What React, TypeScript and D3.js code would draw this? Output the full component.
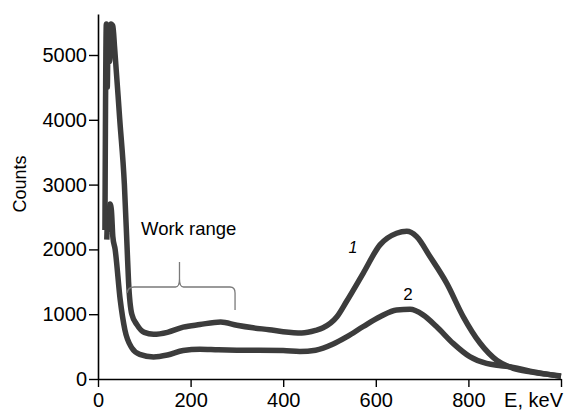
import React, { useEffect, useRef } from 'react';
import * as d3 from 'd3';

// spectrum 1 (upper curve), [energy keV, counts]
const series1: [number, number][] = [
  [15, 2300], [18, 5480], [20, 4500], [22, 5450], [25, 4900], [28, 5480],
  [32, 5450], [36, 5100], [47, 4000], [57, 3000], [63, 2000], [66, 1500],
  [73, 1000], [84, 840], [100, 720], [120, 690], [150, 720], [184, 800],
  [220, 840], [265, 880], [300, 830], [335, 790], [370, 760], [400, 730],
  [440, 710], [470, 750], [486, 790], [516, 960], [537, 1200], [573, 1635],
  [609, 2070], [645, 2250], [667, 2280], [688, 2200], [717, 1890], [753, 1480],
  [789, 960], [825, 555], [861, 290], [897, 165], [933, 110], [969, 75], [1000, 45],
];

// spectrum 2 (lower curve)
const series2: [number, number][] = [
  [19, 2150], [21, 2500], [23, 2300], [26, 2700], [29, 2600], [32, 2200],
  [37, 2000], [48, 1220], [58, 760], [73, 480], [90, 380], [120, 340],
  [150, 370], [184, 440], [220, 460], [260, 450], [300, 445], [400, 440],
  [436, 425], [470, 445], [508, 540], [537, 650], [573, 810], [609, 960],
  [645, 1065], [674, 1075], [702, 990], [731, 810], [767, 550], [803, 345],
  [839, 240], [870, 205], [897, 180], [933, 120], [969, 75], [1000, 40],
];

const xTicks = [0, 200, 400, 600, 800, 1000];
const yTicks = [0, 1000, 2000, 3000, 4000, 5000];

// "Work range" brace in data units
const brace = { left: 65, center: 176, right: 296, level: 1420, tip: 1805, leftEnd: 1330, rightEnd: 1065 };

const W = 566, H = 412;
const font = '"Liberation Sans", Arial, sans-serif';

export default function App() {
  const svgRef = useRef<SVGSVGElement>(null);

  useEffect(() => {
    const svg = d3.select(svgRef.current);
    svg.selectAll('*').remove();

    const x = d3.scaleLinear().domain([0, 1000]).range([98, 561]);
    const y = d3.scaleLinear().domain([0, 5000]).range([379, 55]);
    const yTop = y.invert(14);

    const line = d3.line<[number, number]>()
      .x(d => x(d[0]))
      .y(d => y(d[1]))
      .curve(d3.curveMonotoneX);

    [series2, series1].forEach(s => {
      svg.append('path')
        .datum(s)
        .attr('d', line)
        .attr('fill', 'none')
        .attr('stroke', '#3c3c3c')
        .attr('stroke-width', 5.5)
        .attr('stroke-linejoin', 'round');
    });

    // axes
    const gx = svg.append('g')
      .attr('transform', `translate(0,${y(0)})`)
      .call(d3.axisBottom(x).tickValues(xTicks).tickSize(8).tickSizeOuter(0).tickPadding(6)
        .tickFormat(d => (+d === 1000 ? '' : String(d))));
    const gy = svg.append('g')
      .attr('transform', `translate(${x(0)},0)`)
      .call(d3.axisLeft(y.copy().domain([0, yTop]).range([379, 14])).tickValues(yTicks)
        .tickSize(9).tickSizeOuter(0).tickPadding(2).tickFormat(d => String(d)));

    [gx, gy].forEach(g => {
      g.select('.domain').attr('stroke', '#000').attr('stroke-width', 1.6);
      g.selectAll('.tick line').attr('stroke', '#000').attr('stroke-width', 1.4);
      g.selectAll('.tick text').attr('font-family', font).attr('font-size', 20).attr('fill', '#000');
    });

    svg.append('text')
      .attr('x', 563).attr('y', 407)
      .attr('text-anchor', 'end')
      .attr('font-family', font).attr('font-size', 20)
      .text('E, keV');

    svg.append('text')
      .attr('transform', `translate(26,184) rotate(-90)`)
      .attr('text-anchor', 'middle')
      .attr('font-family', font).attr('font-size', 18)
      .text('Counts');

    // brace
    const bl = x(brace.left), bc = x(brace.center), br = x(brace.right);
    const by = y(brace.level);
    const p = d3.path();
    p.moveTo(bl - 1, y(brace.leftEnd));
    p.quadraticCurveTo(bl, by, bl + 6, by);
    p.lineTo(bc - 4, by);
    p.quadraticCurveTo(bc, by, bc, by - 8);
    p.lineTo(bc, y(brace.tip));
    p.moveTo(bc, by - 8);
    p.quadraticCurveTo(bc, by, bc + 4, by);
    p.lineTo(br - 5, by);
    p.quadraticCurveTo(br, by, br, by + 6);
    p.lineTo(br, y(brace.rightEnd));
    svg.append('path')
      .attr('d', p.toString())
      .attr('fill', 'none')
      .attr('stroke', '#7a7a7a')
      .attr('stroke-width', 1.3);

    svg.append('text')
      .attr('x', 141).attr('y', 235)
      .attr('font-family', font).attr('font-size', 18.5)
      .text('Work range');

    svg.append('text')
      .attr('x', 353).attr('y', 253)
      .attr('text-anchor', 'middle')
      .attr('font-family', font).attr('font-size', 16).attr('font-style', 'italic')
      .text('1');
    svg.append('text')
      .attr('x', 408).attr('y', 300)
      .attr('text-anchor', 'middle')
      .attr('font-family', font).attr('font-size', 17)
      .text('2');
  }, []);

  return (
    <svg ref={svgRef} width={W} height={H}
      style={{ position: 'absolute', left: 0, top: 0, background: '#fff' }} />
  );
}
